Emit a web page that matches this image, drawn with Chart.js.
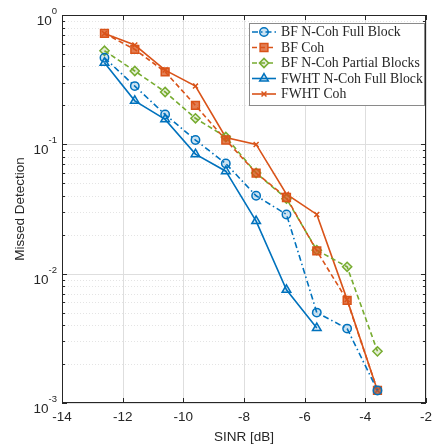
<!DOCTYPE html>
<html>
<head>
<meta charset="utf-8">
<script src="https://cdn.jsdelivr.net/npm/chart.js@4"></script>
<style>
  html, body { margin: 0; padding: 0; background: #fff; }
  #wrap { width: 433px; height: 447px; }
</style>
</head>
<body>
<div id="wrap"><canvas id="myChart" width="433" height="447"></canvas></div>
<script>
// data
const sinr = [-12.6, -11.6, -10.6, -9.6, -8.6, -7.6, -6.6, -5.6, -4.6, -3.6];
const bfNcohFull = [0.467, 0.282, 0.170, 0.108, 0.071, 0.040, 0.0287, 0.0050, 0.00376, 0.00125];
const bfCoh = [0.721, 0.542, 0.364, 0.200, 0.108, 0.060, 0.0388, 0.0150, 0.00622, 0.00125];
const bfNcohPartial = [0.529, 0.369, 0.254, 0.159, 0.114, 0.060, 0.038, 0.0152, 0.0113, 0.00251];
const fwhtNcohFull = [0.427, 0.217, 0.156, 0.084, 0.062, 0.0255, 0.0075, 0.0038];
const fwhtCoh = [0.72, 0.586, 0.375, 0.282, 0.113, 0.0998, 0.0412, 0.0287, 0.0063, 0.00125];

const xTicks = [-14, -12, -10, -8, -6, -4, -2];
const yDecades = [-3, -2, -1, 0];
const seriesNames = ['BF N-Coh Full Block', 'BF Coh', 'BF N-Coh Partial Blocks', 'FWHT N-Coh Full Block', 'FWHT Coh'];

const blue = '#0072BD', orange = '#D95319', green = '#77AC30';

function pts(ys) {
  return ys.map((v, i) => ({x: sinr[i], y: v}));
}

function fade(hex, a) {
  const n = parseInt(hex.slice(1), 16);
  return 'rgba(' + (n >> 16) + ',' + ((n >> 8) & 255) + ',' + (n & 255) + ',' + a + ')';
}

const datasets = [
  {label: seriesNames[0], data: pts(bfNcohFull), borderColor: blue, backgroundColor: fade(blue, 0.2),
   borderDash: [6, 3, 1.5, 3], pointStyle: 'circle', pointRadius: 4.2},
  {label: seriesNames[1], data: pts(bfCoh), borderColor: orange, backgroundColor: fade(orange, 0.75),
   borderDash: [5, 3], pointStyle: 'rect', pointRadius: 5.5},
  {label: seriesNames[2], data: pts(bfNcohPartial), borderColor: green, backgroundColor: fade(green, 0.2),
   borderDash: [5, 3], pointStyle: 'rectRot', pointRadius: 4.6},
  {label: seriesNames[3], data: pts(fwhtNcohFull), borderColor: blue, backgroundColor: fade(blue, 0.15),
   borderDash: [], pointStyle: 'triangle', pointRadius: 5},
  {label: seriesNames[4], data: pts(fwhtCoh), borderColor: orange, backgroundColor: orange,
   borderDash: [], pointStyle: 'crossRot', pointRadius: 3.5}
];
datasets.forEach(d => {
  d.borderWidth = 1.6;
  d.pointBorderWidth = 1.5;
  d.pointBorderColor = d.borderColor;
  d.pointBackgroundColor = d.backgroundColor;
  d.fill = false;
  d.tension = 0;
});

const tickFont = '13.5px "Liberation Sans", Arial, sans-serif';
const supFont = '9.5px "Liberation Sans", Arial, sans-serif';
const textCol = '#262626';

// grid behind the lines
const gridPlugin = {
  id: 'matlabGrid',
  beforeDatasetsDraw(chart) {
    const {ctx, chartArea: a, scales: {x, y}} = chart;
    ctx.save();
    ctx.lineWidth = 1;
    // minor y
    ctx.strokeStyle = 'rgb(228,228,228)';
    ctx.setLineDash([1, 2]);
    yDecades.slice(0, -1).forEach(p => {
      for (let m = 2; m <= 9; m++) {
        const py = Math.round(y.getPixelForValue(m * Math.pow(10, p))) + 0.5;
        ctx.beginPath(); ctx.moveTo(a.left, py); ctx.lineTo(a.right, py); ctx.stroke();
      }
    });
    ctx.setLineDash([]);
    ctx.strokeStyle = 'rgb(222,222,222)';
    yDecades.forEach(p => {
      const py = Math.round(y.getPixelForValue(Math.pow(10, p))) + 0.5;
      ctx.beginPath(); ctx.moveTo(a.left, py); ctx.lineTo(a.right, py); ctx.stroke();
    });
    xTicks.forEach(t => {
      const px = Math.round(x.getPixelForValue(t)) + 0.5;
      ctx.beginPath(); ctx.moveTo(px, a.top); ctx.lineTo(px, a.bottom); ctx.stroke();
    });
    ctx.restore();
  }
};

// box, ticks, labels, legend
const axesPlugin = {
  id: 'matlabAxes',
  afterDatasetsDraw(chart) {
    const {ctx, chartArea: a, scales: {x, y}} = chart;
    ctx.save();
    ctx.strokeStyle = textCol;
    ctx.lineWidth = 1;
    ctx.strokeRect(Math.round(a.left) + 0.5, Math.round(a.top) + 0.5,
      Math.round(a.right - a.left) - 1, Math.round(a.bottom - a.top) - 1);

    ctx.beginPath();
    xTicks.forEach(t => {
      const px = Math.round(x.getPixelForValue(t)) + 0.5;
      ctx.moveTo(px, a.bottom); ctx.lineTo(px, a.bottom - 5);
      ctx.moveTo(px, a.top); ctx.lineTo(px, a.top + 5);
    });
    yDecades.forEach((p, i) => {
      const py = Math.round(y.getPixelForValue(Math.pow(10, p))) + 0.5;
      ctx.moveTo(a.left, py); ctx.lineTo(a.left + 5, py);
      ctx.moveTo(a.right, py); ctx.lineTo(a.right - 5, py);
      if (i < yDecades.length - 1) {
        for (let m = 2; m <= 9; m++) {
          const q = Math.round(y.getPixelForValue(m * Math.pow(10, p))) + 0.5;
          ctx.moveTo(a.left, q); ctx.lineTo(a.left + 3, q);
          ctx.moveTo(a.right, q); ctx.lineTo(a.right - 3, q);
        }
      }
    });
    ctx.stroke();

    // x tick labels
    ctx.fillStyle = textCol;
    ctx.font = tickFont;
    ctx.textAlign = 'center';
    ctx.textBaseline = 'middle';
    xTicks.forEach(t => ctx.fillText(String(t), x.getPixelForValue(t), a.bottom + 14));
    ctx.fillText('SINR [dB]', (a.left + a.right) / 2, a.bottom + 34);

    // y tick labels 10^p
    yDecades.forEach(p => {
      const py = y.getPixelForValue(Math.pow(10, p));
      const sup = String(p);
      ctx.font = supFont;
      const sw = ctx.measureText(sup).width;
      ctx.textAlign = 'left';
      ctx.textBaseline = 'alphabetic';
      const right = a.left - 5;
      ctx.fillText(sup, right - sw, py - 1);
      ctx.font = tickFont;
      const bw = ctx.measureText('10').width;
      ctx.fillText('10', right - sw - bw, py + 10);
    });

    // y title
    ctx.save();
    ctx.translate(20, (a.top + a.bottom) / 2);
    ctx.rotate(-Math.PI / 2);
    ctx.font = tickFont;
    ctx.textAlign = 'center';
    ctx.textBaseline = 'middle';
    ctx.fillText('Missed Detection', 0, 0);
    ctx.restore();

    // legend
    const box = {l: 249.5, t: 23.5, r: 424.5, b: 105.5};
    ctx.fillStyle = '#fff';
    ctx.fillRect(box.l, box.t, box.r - box.l, box.b - box.t);
    ctx.strokeStyle = '#8a8a8a';
    ctx.strokeRect(box.l, box.t, box.r - box.l, box.b - box.t);
    let fs = 12;
    ctx.font = fs + 'px "Liberation Serif", "Times New Roman", serif';
    fs = fs * 139 / ctx.measureText(seriesNames[2]).width;
    const legFont = fs.toFixed(2) + 'px "Liberation Serif", "Times New Roman", serif';
    chart.data.datasets.forEach((d, i) => {
      const ry = 32 + i * 15.5;
      ctx.save();
      ctx.strokeStyle = d.borderColor;
      ctx.lineWidth = d.borderWidth;
      ctx.setLineDash(d.borderDash);
      ctx.beginPath(); ctx.moveTo(252, ry); ctx.lineTo(276, ry); ctx.stroke();
      ctx.setLineDash([]);
      ctx.lineWidth = d.pointBorderWidth;
      ctx.fillStyle = d.pointBackgroundColor;
      Chart.helpers.drawPoint(ctx, {pointStyle: d.pointStyle, radius: d.pointRadius, borderWidth: d.pointBorderWidth}, 264, ry);
      ctx.restore();
      ctx.fillStyle = textCol;
      ctx.font = legFont;
      ctx.textAlign = 'left';
      ctx.textBaseline = 'middle';
      ctx.fillText(d.label, 281, ry + 0.5);
    });
    ctx.restore();
  }
};

var ctx = document.getElementById('myChart');
var chart = new Chart(ctx, {
  type: 'line',
  data: {datasets: datasets},
  options: {
    responsive: false,
    animation: false,
    layout: {padding: {left: 62, right: 3, top: 15, bottom: 44}},
    scales: {
      x: {type: 'linear', min: -14, max: -2, display: false},
      y: {type: 'logarithmic', min: 0.001, max: 1, display: false}
    },
    plugins: {legend: {display: false}, tooltip: {enabled: false}},
    clip: false
  },
  plugins: [gridPlugin, axesPlugin]
});
</script>
</body>
</html>
